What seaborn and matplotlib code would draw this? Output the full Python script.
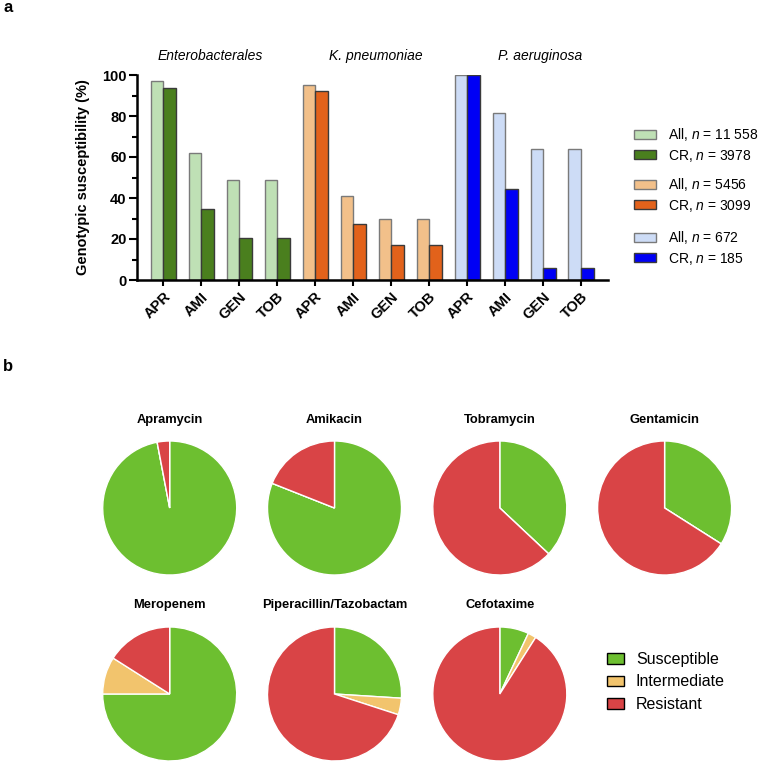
import pandas as pd
import seaborn as sns
from matplotlib import pyplot as plt
from matplotlib.patches import Patch

# ---- panel a data ----
species = ["Enterobacterales", "K. pneumoniae", "P. aeruginosa"]
drugs = ["APR", "AMI", "GEN", "TOB"]
ent_all = [97.3, 61.8, 48.6, 48.6]
ent_cr = [93.5, 34.5, 20.6, 20.6]
kp_all = [95.1, 41.0, 29.8, 29.8]
kp_cr = [92.3, 27.2, 17.0, 17.0]
pa_all = [100.0, 81.3, 63.9, 63.9]
pa_cr = [100.0, 44.2, 5.7, 5.7]
legend_labels = [
    ("All, $n$ = 11 558", "CR, $n$ = 3978"),
    ("All, $n$ = 5456", "CR, $n$ = 3099"),
    ("All, $n$ = 672", "CR, $n$ = 185"),
]

# ---- panel b data ----
antibiotics = ["Apramycin", "Amikacin", "Tobramycin", "Gentamicin",
               "Meropenem", "Piperacillin/Tazobactam", "Cefotaxime"]
susceptible = [97, 81, 37, 34, 75, 26, 7]
intermediate = [0, 0, 0, 0, 9, 4, 2]
resistant = [3, 19, 63, 66, 16, 70, 91]
categories = ["Susceptible", "Intermediate", "Resistant"]

light_cols = ["#bfe0b5", "#f2c08a", "#cddcf6"]
dark_cols = ["#4a7f1e", "#e2621b", "#0000f5"]
pie_cols = ["#6dbf30", "#f2c46d", "#d94446"]

sns.set_style("ticks")
plt.rcParams["font.family"] = ["Liberation Sans", "DejaVu Sans"]
plt.rcParams["mathtext.fontset"] = "custom"
plt.rcParams["mathtext.it"] = "Liberation Sans:italic"
plt.rcParams["mathtext.rm"] = "Liberation Sans"
for k in ["text.color", "axes.labelcolor", "xtick.color", "ytick.color",
          "axes.edgecolor"]:
    plt.rcParams[k] = "black"

W, H = 762, 765
fig = plt.figure(figsize=(W / 100, H / 100), dpi=100)


def px_axes(x0, y0, x1, y1):
    return fig.add_axes([x0 / W, 1 - y1 / H, (x1 - x0) / W, (y1 - y0) / H])


# ---- bar chart ----
rows = []
for sp, a, c in zip(species, [ent_all, kp_all, pa_all], [ent_cr, kp_cr, pa_cr]):
    for d, va, vc in zip(drugs, a, c):
        rows.append({"key": f"{sp} {d}", "drug": d, "set": "All", "value": va})
        rows.append({"key": f"{sp} {d}", "drug": d, "set": "CR", "value": vc})
df = pd.DataFrame(rows)
order = list(dict.fromkeys(df["key"]))

ax = px_axes(137, 75, 608, 280)
sns.barplot(data=df, x="key", y="value", hue="set", order=order,
            hue_order=["All", "CR"], width=0.66, ax=ax, legend=False,
            saturation=1, linewidth=1)
for ci, cont in enumerate(ax.containers):
    for i, bar in enumerate(cont):
        g = i // 4
        if ci == 0:
            bar.set_facecolor(light_cols[g])
            bar.set_edgecolor("#7a7a7a")
        else:
            bar.set_facecolor(dark_cols[g])
            bar.set_edgecolor("#3a3a3a")

ax.set_xlim(-0.69, 11.71)
ax.set_ylim(0, 100)
ax.set_yticks([0, 20, 40, 60, 80, 100])
ax.set_yticks(range(10, 100, 20), minor=True)
ax.set_xticks(range(12))
ax.set_xticklabels(drugs * 3, rotation=45, ha="right", va="top",
                   rotation_mode="anchor", fontsize=10.5, fontweight="bold")
for lab in ax.get_yticklabels():
    lab.set_fontweight("bold")
    lab.set_fontsize(10.5)
ax.set_xlabel("")
ax.set_ylabel("Genotypic susceptibility (%)", fontsize=10.5,
              fontweight="bold", labelpad=9)
sns.despine(ax=ax)
for s in ["left", "bottom"]:
    ax.spines[s].set_linewidth(1.8)
ax.tick_params(axis="y", which="major", width=1.5, length=6, pad=1.5)
ax.tick_params(axis="y", which="minor", width=1.5, length=3.8)
ax.tick_params(axis="x", which="major", width=1.5, length=4, pad=3)

for x, sp in zip([1.24, 5.59, 9.92], species):
    ax.text(x, 109.3, sp, ha="center", va="center", fontsize=10,
            style="italic", clip_on=False)

for k, (la, lc) in enumerate(legend_labels):
    handles = [Patch(facecolor=light_cols[k], edgecolor="#7a7a7a"),
               Patch(facecolor=dark_cols[k], edgecolor="#3a3a3a")]
    fig.legend(handles, [la, lc], loc="center left",
               bbox_to_anchor=(634 / W, 1 - [145, 195, 248][k] / H),
               frameon=False, fontsize=10, borderpad=0, borderaxespad=0,
               handlelength=1.58, handleheight=0.6, handletextpad=0.86,
               labelspacing=0.3)

# ---- pie charts ----
centers = [(169.7, 508), (334.5, 508), (499.8, 508), (664.6, 508),
           (169.7, 694), (334.5, 694), (499.8, 694)]
r = 67
for (cx, cy), name, s, i, res in zip(centers, antibiotics, susceptible,
                                      intermediate, resistant):
    pax = px_axes(cx - r, cy - r, cx + r, cy + r)
    pax.pie([s, i, res], colors=pie_cols, startangle=90, counterclock=False,
            radius=1, wedgeprops=dict(edgecolor="white", linewidth=1))
    pax.set_xlim(-1, 1)
    pax.set_ylim(-1, 1)
    pax.set_aspect("equal")
    pax.axis("off")
    ty = 420 if cy < 600 else 605
    fig.text(cx / W, 1 - ty / H, name, ha="center", va="center",
             fontsize=9.3, fontweight="bold")

pie_handles = [Patch(facecolor=c, edgecolor="black", linewidth=1) for c in pie_cols]
fig.legend(pie_handles, categories, loc="center left",
           bbox_to_anchor=(607 / W, 1 - 682 / H), frameon=False,
           fontsize=11.5, borderpad=0, borderaxespad=0, handlelength=1.06,
           handleheight=0.63, handletextpad=0.75, labelspacing=0.47)

fig.text(3 / W, 1 - 7 / H, "a", fontsize=12, fontweight="bold",
         ha="left", va="center")
fig.text(3 / W, 1 - 366 / H, "b", fontsize=12, fontweight="bold",
         ha="left", va="center")

fig.savefig("out.png", dpi=100)
